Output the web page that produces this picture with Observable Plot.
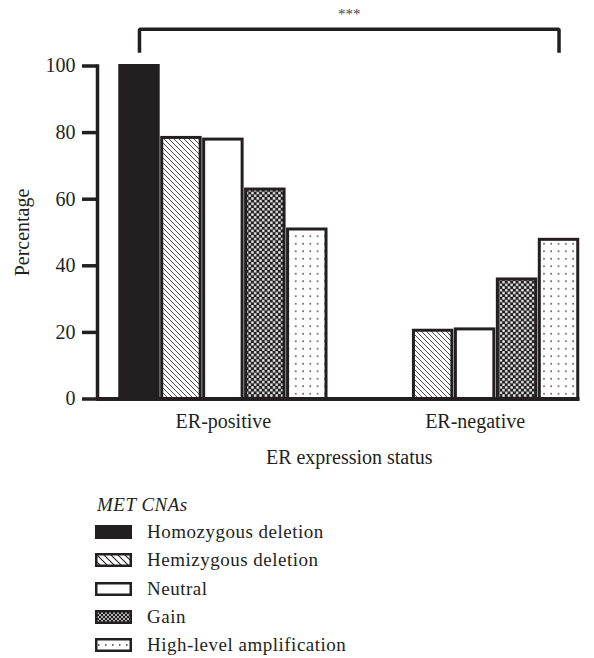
<!DOCTYPE html>
<html>
<head>
<meta charset="utf-8">
<script src="https://cdn.jsdelivr.net/npm/d3@7"></script>
<script src="https://cdn.jsdelivr.net/npm/@observablehq/plot@0.6"></script>
<style>
  html, body { margin: 0; padding: 0; background: #fff; }
  body { width: 594px; height: 658px; position: relative; overflow: hidden;
         font-family: "Liberation Serif", "Times New Roman", serif; color: #231f20; }
  #chart svg { display: block; }
  #defs { position: absolute; width: 0; height: 0; left: 0; top: 0; }
  .legend { position: absolute; left: 95px; top: 492px; font-size: 19px; letter-spacing: 0.5px; }
  .ltitle { font-style: italic; line-height: 26px; margin-left: 2px; }
  .lrow { display: flex; align-items: center; height: 28.25px; }
  .lrow svg { margin-right: 15px; flex: none; }
</style>
</head>
<body>
<svg id="defs"></svg>
<div id="chart"></div>
<script>
// ---- data ----
const groups = ["ER-positive", "ER-negative"];
const series = ["Homozygous deletion", "Hemizygous deletion", "Neutral", "Gain", "High-level amplification"];
const erPositive = [100, 78.4, 77.9, 62.9, 50.9];
const erNegative = [0, 20.5, 20.9, 35.9, 47.8];
const yTicks = [0, 20, 40, 60, 80, 100];
const legendTitle = "MET CNAs";
const significance = "***";
const xLabel = "ER expression status";
const yLabel = "Percentage";

const ink = "#231f20";

// ---- patterns ----
const defs = d3.select("#defs").append("defs");
function hatch(id, size, sw) {
  const p = defs.append("pattern").attr("id", id).attr("patternUnits", "userSpaceOnUse")
    .attr("width", size).attr("height", size);
  p.append("rect").attr("width", size).attr("height", size).attr("fill", "#fff");
  p.append("path").attr("d", `M-1,-1L${size + 1},${size + 1}M-1,${size - 1}L1,${size + 1}M${size - 1},-1L${size + 1},1`)
    .attr("stroke", ink).attr("stroke-width", sw);
}
function checker(id, size) {
  const h = size / 2;
  const p = defs.append("pattern").attr("id", id).attr("patternUnits", "userSpaceOnUse")
    .attr("width", size).attr("height", size);
  p.append("rect").attr("width", size).attr("height", size).attr("fill", ink);
  p.append("rect").attr("x", 0.2).attr("y", 0.2).attr("width", h - 0.4).attr("height", h - 0.4).attr("fill", "#fff");
  p.append("rect").attr("x", h + 0.2).attr("y", h + 0.2).attr("width", h - 0.4).attr("height", h - 0.4).attr("fill", "#fff");
}
function dots(id, w, h, ox, oy, r) {
  const p = defs.append("pattern").attr("id", id).attr("patternUnits", "userSpaceOnUse")
    .attr("width", w).attr("height", h);
  p.append("rect").attr("width", w).attr("height", h).attr("fill", "#fff");
  p.append("rect").attr("x", ox).attr("y", oy).attr("width", r).attr("height", r).attr("fill", "#3a3536");
}
hatch("hemi", 5, 0.8);
checker("gain", 5.4);
dots("amp", 7.3, 7.5, 3, 3, 1.5);
hatch("hemiL", 7, 1.1);
checker("gainL", 4);
dots("ampL", 7, 14, 3, 6.2, 1.5);

const barFills = [ink, "url(#hemi)", "#fff", "url(#gain)", "url(#amp)"];
const legendFills = [ink, "url(#hemiL)", "#fff", "url(#gainL)", "url(#ampL)"];

// ---- table ----
const key = (g, s) => `${g}|${s}`;
const gapKey = "gap";
const table = [];
groups.forEach((g, gi) => {
  const vals = gi === 0 ? erPositive : erNegative;
  series.forEach((s, si) => table.push({group: g, series: s, key: key(g, s), value: vals[si]}));
});
const xDomain = [...series.map(s => key(groups[0], s)), gapKey, ...series.map(s => key(groups[1], s))];
const maxVal = d3.max(table, d => d.value);
const bracket = [
  {x: key(groups[0], series[0]), y: maxVal + 4},
  {x: key(groups[0], series[0]), y: maxVal + 11},
  {x: key(groups[1], series[4]), y: maxVal + 11},
  {x: key(groups[1], series[4]), y: maxVal + 4}
];

const chart = Plot.plot({
  width: 594,
  height: 480,
  marginTop: 65.5,
  marginBottom: 81.5,
  marginLeft: 97,
  marginRight: 14.5,
  insetLeft: 21,
  style: {fontFamily: "'Liberation Serif', 'Times New Roman', serif", fontSize: "20px", color: ink, background: "#fff"},
  x: {domain: xDomain, padding: 0, round: false, axis: null},
  y: {domain: [0, 100]},
  color: {type: "ordinal", domain: series, range: barFills},
  marks: [
    Plot.barY(table.filter(d => d.value > 0), {
      x: "key", y: "value", fill: "series", stroke: ink, strokeWidth: 3,
      insetLeft: 1.75, insetRight: 1.75
    }),
    Plot.ruleY([0], {stroke: ink, strokeWidth: 4}),
    Plot.frame({anchor: "left", stroke: ink, strokeWidth: 3.5}),
    Plot.axisY({
      ticks: yTicks, tickSize: 15, tickPadding: 7, stroke: ink, strokeWidth: 3.5, fill: ink,
      label: yLabel, labelAnchor: "center", labelArrow: "none", labelOffset: 83
    }),
    Plot.text(groups, {
      x: g => key(g, series[2]), y: () => 0, text: d => d, dy: 23, lineAnchor: "middle", fill: ink
    }),
    Plot.text([xLabel], {
      x: () => gapKey, y: () => 0, text: d => d, dy: 58.5, lineAnchor: "middle", fill: ink
    }),
    Plot.line(bracket, {x: "x", y: "y", stroke: ink, strokeWidth: 3.5, strokeLinejoin: "miter", strokeLinecap: "butt"}),
    Plot.text([significance], {
      x: () => gapKey, y: () => maxVal + 15.5, text: d => d, lineAnchor: "middle", fontSize: 15, fill: "#444"
    })
  ]
});
document.getElementById("chart").appendChild(chart);

// ---- legend ----
const legend = d3.select("body").append("div").attr("class", "legend");
legend.append("div").attr("class", "ltitle").text(legendTitle);
series.forEach((s, i) => {
  const row = legend.append("div").attr("class", "lrow");
  const sw = row.append("svg").attr("width", 37).attr("height", 14);
  sw.append("rect").attr("x", 1.25).attr("y", 1.25).attr("width", 34.5).attr("height", 11.5)
    .attr("fill", legendFills[i]).attr("stroke", ink).attr("stroke-width", 2.5);
  row.append("span").text(s);
});
</script>
</body>
</html>
